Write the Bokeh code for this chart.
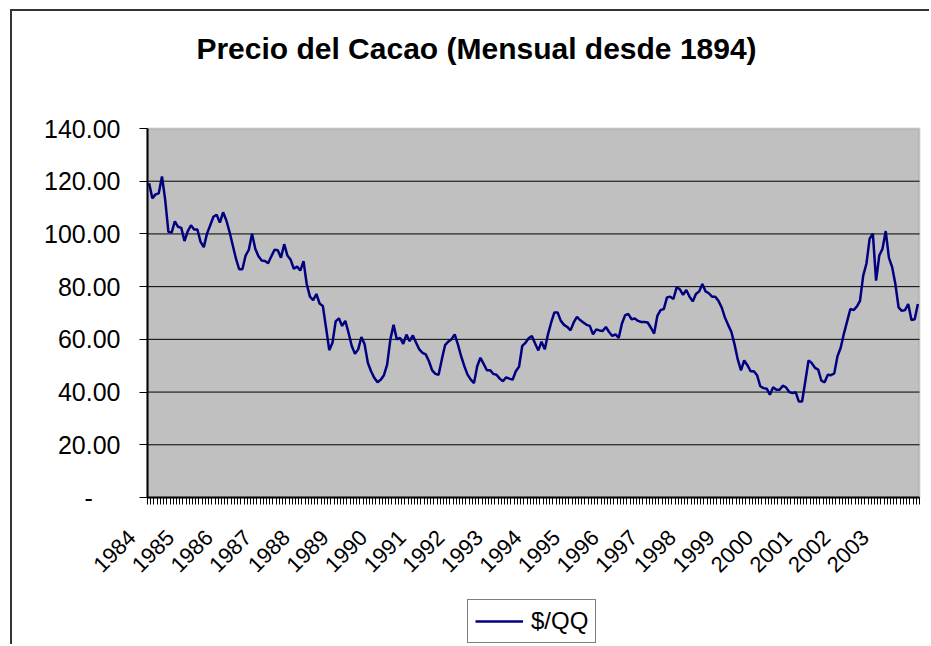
import math
from bokeh.plotting import figure
from bokeh.models import (Range1d, FixedTicker, Legend, LegendItem,
                          BoxAnnotation, Label)
from bokeh.embed import file_html
from bokeh.resources import INLINE

# ---------------- data ----------------
title_text = "Precio del Cacao (Mensual desde 1894)"
series_name = "$/QQ"
years = ["1984", "1985", "1986", "1987", "1988", "1989", "1990", "1991",
         "1992", "1993", "1994", "1995", "1996", "1997", "1998", "1999",
         "2000", "2001", "2002", "2003"]
y_ticks = [0, 20, 40, 60, 80, 100, 120, 140]
y_labels = ["-", "20.00", "40.00", "60.00", "80.00", "100.00", "120.00", "140.00"]

# monthly price, Jan 1984 .. Dec 2003
precio = [
    119.2, 113.5, 115.0, 115.4, 121.8, 112.9, 100.8, 100.5, 104.8, 102.7, 102.3, 97.3,   # 1984
    101.0, 103.3, 101.7, 101.7, 97.0, 95.0, 100.1, 103.3, 106.5, 107.3, 104.3, 108.2,    # 1985
    105.2, 100.8, 95.7, 90.6, 86.6, 86.6, 91.8, 94.0, 100.1, 94.4, 91.5, 89.9,           # 1986
    89.7, 88.9, 91.5, 94.0, 93.8, 91.0, 96.1, 91.8, 90.2, 86.8, 87.6, 86.1,              # 1987
    89.7, 81.0, 76.2, 74.9, 77.2, 73.6, 72.7, 64.5, 55.9, 58.7, 66.8, 68.0,              # 1988
    65.1, 67.0, 62.5, 57.5, 54.5, 56.2, 60.9, 58.1, 51.1, 47.9, 45.4, 43.7,              # 1989
    44.7, 46.4, 50.4, 60.0, 65.5, 60.0, 60.6, 58.3, 61.8, 59.3, 61.5, 58.7,              # 1990
    56.2, 54.9, 54.3, 51.7, 48.2, 46.9, 46.6, 52.4, 57.8, 59.1, 60.0, 61.9,              # 1991
    58.1, 53.6, 49.8, 46.6, 44.7, 43.4, 49.8, 53.0, 50.7, 48.3, 48.3, 46.9,              # 1992
    46.6, 45.1, 44.1, 45.6, 45.1, 44.7, 47.9, 49.6, 57.5, 58.7, 60.4, 61.3,              # 1993
    58.4, 55.8, 59.1, 56.2, 61.9, 66.4, 70.2, 70.2, 67.0, 65.5, 64.7, 63.4,              # 1994
    66.4, 68.5, 67.3, 66.4, 65.5, 65.1, 61.9, 63.8, 63.4, 63.2, 64.7, 62.8,              # 1995
    61.3, 61.9, 60.6, 66.0, 69.2, 69.6, 67.6, 67.9, 67.0, 66.6, 66.6, 66.4,              # 1996
    64.4, 62.2, 68.9, 71.1, 71.5, 75.9, 76.2, 75.3, 79.7, 79.0, 76.9, 78.7,              # 1997
    76.2, 74.4, 77.2, 78.2, 81.0, 78.2, 77.5, 76.2, 76.2, 74.6, 72.1, 68.3,              # 1998
    65.5, 62.9, 58.1, 52.4, 48.2, 52.0, 50.2, 47.9, 47.9, 46.4, 42.2, 41.5,              # 1999
    41.3, 39.0, 41.8, 40.9, 40.9, 42.4, 41.8, 40.0, 39.6, 40.0, 36.4, 36.4,              # 2000
    44.1, 52.0, 51.0, 49.2, 48.5, 44.3, 43.7, 46.6, 46.4, 47.1, 53.6, 56.8,              # 2001
    62.2, 66.8, 71.5, 71.1, 72.4, 74.6, 84.2, 88.7, 98.2, 100.1, 82.3, 91.8,             # 2002
    94.4, 101.1, 90.9, 87.4, 81.0, 72.1, 70.8, 71.1, 73.4, 67.3, 67.6, 73.4,             # 2003
]

# ---------------- layout (page pixels) ----------------
FONT = "Liberation Sans"
ORG_X, ORG_Y = 12, 11                          # canvas origin on the page
W, H = 919, 635                                # canvas size
PLOT_L, PLOT_R, PLOT_T, PLOT_B = 147, 919, 128, 497   # grey plot area

n = len(precio)
months = list(range(n))
x_lo, x_hi = -0.5, n - 0.5                     # category band edges
y_max = y_ticks[-1]
kx = (PLOT_R - PLOT_L) / n                     # px per month
ky = (PLOT_B - PLOT_T) / y_max                 # px per unit


def data_x(px):
    return x_lo + (px - PLOT_L) / kx


def data_y(py):
    return (PLOT_B - py) / ky


# the frame covers the whole canvas, so that axes, labels and legend,
# which are all placed inside it, are never clipped
p = figure(width=W, height=H, output_backend="svg", toolbar_location=None,
           x_range=Range1d(data_x(ORG_X), data_x(ORG_X + W)),
           y_range=Range1d(data_y(ORG_Y + H), data_y(ORG_Y)),
           min_border=0, min_border_left=0, min_border_right=0,
           min_border_top=0, min_border_bottom=0)
# outer chart frame: only its left and top edges fall inside the picture
p.styles = {"margin-left": f"{ORG_X}px", "margin-top": f"{ORG_Y}px",
            "box-shadow": "-2px -2px 0px 0px #333333"}

p.background_fill_color = "white"
p.border_fill_color = "white"
p.outline_line_color = None
p.xgrid.visible = False
p.ygrid.visible = False

# grey plot area
p.add_layout(BoxAnnotation(left=x_lo, right=x_hi, bottom=0, top=y_max,
                           fill_color="#C0C0C0", fill_alpha=1,
                           line_color="#808080", line_width=2, level="image"))

# horizontal grid lines
grid_vals = y_ticks[1:-1]
p.segment(x0=[x_lo] * len(grid_vals), x1=[x_hi] * len(grid_vals),
          y0=grid_vals, y1=grid_vals, line_color="black", line_width=1)

r = p.line(months, precio, line_color="#000080", line_width=2.5)

# title
p.add_layout(Label(x=data_x(476), y=data_y(48), text=title_text,
                   text_align="center", text_baseline="alphabetic",
                   text_font=FONT, text_font_size="30px",
                   text_font_style="bold", text_color="black"))

# x axis at y = 0: monthly tick marks, a year label every 12 months
label_pos = list(range(0, n, 12))
p.xaxis.fixed_location = 0
p.xaxis.bounds = (x_lo, x_hi)
p.xaxis.ticker = FixedTicker(ticks=label_pos,
                             minor_ticks=[m - 0.5 for m in range(n + 1)])
p.xaxis.major_label_overrides = {pos: yr + "\u00a0" * 4
                                 for pos, yr in zip(label_pos, years)}
p.xaxis.major_label_orientation = math.pi / 4
p.xaxis.major_tick_line_color = None
p.xaxis.major_tick_out = 7
p.xaxis.major_tick_in = 0
p.xaxis.minor_tick_line_color = "black"
p.xaxis.minor_tick_line_width = 1
p.xaxis.minor_tick_out = 7
p.xaxis.minor_tick_in = 0
p.xaxis.axis_line_color = "black"
p.xaxis.axis_line_width = 2
p.xaxis.major_label_text_font = FONT
p.xaxis.major_label_text_font_size = "22px"
p.xaxis.major_label_text_color = "black"
p.xaxis.major_label_standoff = 12

# y axis at the left edge of the plot area
p.yaxis.fixed_location = x_lo
p.yaxis.bounds = (0, y_max)
p.yaxis.ticker = FixedTicker(ticks=y_ticks)
overrides = dict(zip(y_ticks, y_labels))
overrides[0] = y_labels[0] + "\u00a0" * 4
p.yaxis.major_label_overrides = overrides
p.yaxis.major_tick_out = 8
p.yaxis.major_tick_in = 0
p.yaxis.minor_tick_line_color = None
p.yaxis.axis_line_color = "black"
p.yaxis.axis_line_width = 2
p.yaxis.major_label_text_font = FONT
p.yaxis.major_label_text_font_size = "25px"
p.yaxis.major_label_text_color = "black"
p.yaxis.major_label_standoff = 19

# legend under the axis labels
legend = Legend(items=[LegendItem(label=series_name, renderers=[r])],
                location=(467 - ORG_X, (ORG_Y + H) - 643), orientation="vertical",
                border_line_color="black", border_line_width=1,
                background_fill_color="white", background_fill_alpha=1,
                label_text_font=FONT, label_text_font_size="24px",
                label_text_color="black",
                glyph_width=48, glyph_height=20, label_height=20,
                padding=7, label_standoff=8, margin=0, spacing=0)
p.add_layout(legend)

open("out.html", "w").write(file_html(p, INLINE))
